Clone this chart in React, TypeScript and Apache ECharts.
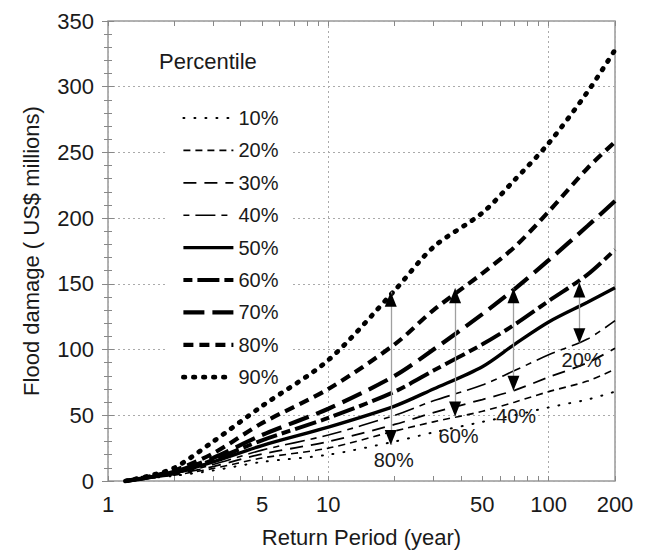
import React, { useEffect, useRef } from "react";
import * as echarts from "echarts";

// Return periods (years) at which the curves were read
const periods = [1.2, 1.5, 2, 3, 5, 10, 20, 30, 50, 70, 100, 150, 200];

// Flood damage (US$ millions) per percentile
const p10 = [0, 2, 4, 8, 14.5, 20, 30, 37, 45, 50, 56, 62, 68];
const p20 = [0, 2, 4.5, 9.5, 17.5, 25, 38, 45, 53, 60, 68, 76, 85];
const p30 = [0, 2, 5, 11, 20.5, 30, 43, 52, 62, 69, 79, 90, 101];
const p40 = [0, 2.3, 5.5, 12.5, 23.5, 35, 50, 61, 73, 84, 96, 108, 122];
const p50 = [0, 2.5, 6, 14.5, 27, 41, 57, 70, 87, 104, 121, 136, 147];
const p60 = [0, 2.5, 6.5, 16, 31, 48, 68, 84, 104, 119, 137, 157, 176];
const p70 = [0, 2.5, 7, 17.5, 35, 55, 80, 100, 127, 146, 168, 194, 213];
const p80 = [0, 3, 8, 21, 44, 70, 104, 130, 158, 178, 205, 238, 258];
const p90 = [0, 3.5, 10, 30, 57, 92, 145, 178, 204, 229, 257, 296, 328];

const percentileNames = ["10%", "20%", "30%", "40%", "50%", "60%", "70%", "80%", "90%"];
const percentileValues = [p10, p20, p30, p40, p50, p60, p70, p80, p90];

// Axis ticks / labels
const xLabelValues = [1, 5, 10, 50, 100, 200];
const xTickValues = [1, 2, 3, 4, 5, 6, 7, 8, 9, 10, 20, 30, 40, 50, 60, 70, 80, 90, 100, 200];
const yMin = 0;
const yMax = 350;
const yStep = 50;

// Range arrows: return period, upper and lower ends, label and label anchor
const arrowX = [19.2, 37.6, 69.2, 137.8];
const arrowTop = [144, 146.6, 146.6, 151];
const arrowBottom = [27.4, 49, 68.7, 104.8];
const arrowLabels = ["80%", "60%", "40%", "20%"];
const arrowLabelX = [19.8, 39, 71.1, 141];
const arrowLabelY = [16, 33.9, 49.8, 92];

const lineStyles: any[] = [
  { width: 2, type: [1, 10], cap: "round" },
  { width: 1.6, type: [7, 5] },
  { width: 1.8, type: [13, 8] },
  { width: 1.6, type: [6, 6, 20, 6] },
  { width: 3.4, type: "solid" },
  { width: 4, type: [9, 5, 22, 5] },
  { width: 4.2, type: [21, 8] },
  { width: 4.2, type: [10, 6] },
  { width: 4.8, type: [1.5, 8.5], cap: "round" },
];

const FONT = "'Liberation Sans', Arial, Helvetica, sans-serif";
const TXT = "#1a1a1a";
const TICK = "#888";

export default function App() {
  const ref = useRef<HTMLDivElement>(null);
  useEffect(() => {
    if (!ref.current) return;
    const chart = echarts.init(ref.current, undefined, { renderer: "svg" });

    const series: any[] = percentileNames.map((name, i) => {
      const s: any = {
        name,
        type: "line",
        xAxisIndex: 0,
        yAxisIndex: 0,
        data: periods.map((p, j) => [p, percentileValues[i][j]]),
        symbol: "none",
        showSymbol: false,
        color: "#000",
        smooth: 0.3,
        z: 3,
        lineStyle: { color: "#000", ...lineStyles[i] },
        emphasis: { disabled: true },
      };
      return s;
    });

    const markPts: any[] = [];
    arrowX.forEach((x, i) => {
      markPts.push({
        coord: [x, arrowTop[i]],
        symbol: "triangle",
        symbolSize: [12, 15],
        symbolOffset: [0, "50%"],
        itemStyle: { color: "#000" },
        label: { show: false },
      });
      markPts.push({
        coord: [x, arrowBottom[i]],
        symbol: "triangle",
        symbolSize: [12, 15],
        symbolRotate: 180,
        symbolOffset: [0, "-50%"],
        itemStyle: { color: "#000" },
        label: { show: false },
      });
      markPts.push({
        coord: [arrowLabelX[i], arrowLabelY[i]],
        symbol: "circle",
        symbolSize: 2,
        itemStyle: { color: "rgba(0,0,0,0)" },
        label: {
          show: true,
          position: "inside",
          formatter: arrowLabels[i],
          fontSize: 20,
          color: TXT,
          fontFamily: FONT,
        },
      });
    });

    series[4].markLine = {
      silent: true,
      symbol: ["none", "none"],
      lineStyle: { color: "#a0a0a0", width: 1.3, type: "solid" },
      label: { show: false },
      emphasis: { disabled: true },
      data: arrowX.map((x, i) => [{ coord: [x, arrowTop[i]] }, { coord: [x, arrowBottom[i]] }]),
    };
    series[4].markPoint = { silent: true, data: markPts };

    const xTickLog = xTickValues.map((v) => Math.log10(v));
    const xLabelLog = xLabelValues.map((v) => Math.log10(v));
    const xMaxLog = Math.log10(200);

    const option: any = {
      animation: false,
      backgroundColor: "#fff",
      textStyle: { fontFamily: FONT },
      grid: {
        left: 108,
        right: 30,
        top: 21,
        bottom: 74,
        show: true,
        borderColor: "#999",
        borderWidth: 1.5,
        backgroundColor: "transparent",
      },
      legend: {
        orient: "vertical",
        left: 176,
        top: 103,
        itemWidth: 50,
        itemHeight: 20,
        itemGap: 12.4,
        selectedMode: false,
        data: percentileNames.map((n, i) => ({
          name: n,
          lineStyle: { color: "#000", ...lineStyles[i] },
        })),
        itemStyle: { opacity: 0, color: "rgba(0,0,0,0)", borderWidth: 0 },
        lineStyle: { width: "inherit", type: "inherit", cap: "inherit" },
        textStyle: { fontSize: 20, color: TXT, fontFamily: FONT, lineHeight: 20 },
        z: 6,
      },
      graphic: [
        {
          type: "rect",
          z: 1,
          silent: true,
          shape: { x: 165, y: 95, width: 125, height: 290 },
          style: { fill: "#fff" },
        },
        {
          type: "text",
          z: 6,
          silent: true,
          x: 159,
          y: 61,
          style: {
            text: "Percentile",
            fontSize: 22,
            fontFamily: FONT,
            fill: TXT,
            verticalAlign: "middle",
          },
        },
      ],
      xAxis: [
        {
          type: "log",
          logBase: 10,
          min: 1,
          max: 200,
          position: "bottom",
          axisLine: { show: false },
          axisTick: { show: false },
          axisLabel: { show: false },
          splitLine: { show: true, lineStyle: { color: "#aaa", type: [2, 3], width: 1 } },
        },
        {
          type: "value",
          min: 0,
          max: xMaxLog,
          position: "bottom",
          axisLine: { show: false },
          axisTick: {
            show: true,
            inside: true,
            length: 5,
            customValues: xTickLog,
            lineStyle: { color: TICK },
          },
          axisLabel: {
            show: true,
            customValues: xLabelLog,
            formatter: (v: number) => String(Math.round(Math.pow(10, v))),
            fontSize: 22,
            color: TXT,
            margin: 12,
            fontFamily: FONT,
          },
          splitLine: { show: false },
          name: "Return Period (year)",
          nameLocation: "middle",
          nameGap: 45,
          nameTextStyle: { fontSize: 22, color: TXT, fontFamily: FONT },
        },
        {
          type: "value",
          min: 0,
          max: xMaxLog,
          position: "top",
          axisLine: { show: false },
          axisTick: {
            show: true,
            inside: true,
            length: 5,
            customValues: xTickLog,
            lineStyle: { color: TICK },
          },
          axisLabel: { show: false },
          splitLine: { show: false },
        },
      ],
      yAxis: [
        {
          type: "value",
          min: yMin,
          max: yMax,
          interval: yStep,
          position: "left",
          axisLine: { show: false },
          axisTick: { show: true, inside: true, length: 6, lineStyle: { color: TICK } },
          minorTick: { show: true, splitNumber: 5, length: 4, lineStyle: { color: TICK } },
          splitLine: { show: true, lineStyle: { color: "#aaa", type: [2, 3], width: 1 } },
          axisLabel: { fontSize: 22, color: TXT, margin: 14, fontFamily: FONT },
          name: "Flood damage ( US$ millions)",
          nameLocation: "middle",
          nameGap: 66,
          nameTextStyle: { fontSize: 22, color: TXT, fontFamily: FONT },
        },
        {
          type: "value",
          min: yMin,
          max: yMax,
          interval: yStep,
          position: "right",
          axisLine: { show: false },
          axisTick: { show: true, inside: true, length: 6, lineStyle: { color: TICK } },
          minorTick: { show: true, splitNumber: 5, length: 4, lineStyle: { color: TICK } },
          splitLine: { show: false },
          axisLabel: { show: false },
        },
      ],
      series,
    };

    chart.setOption(option);
    return () => chart.dispose();
  }, []);

  return (
    <div
      ref={ref}
      style={{ position: "absolute", left: 0, top: 0, width: 645, height: 555 }}
    />
  );
}
